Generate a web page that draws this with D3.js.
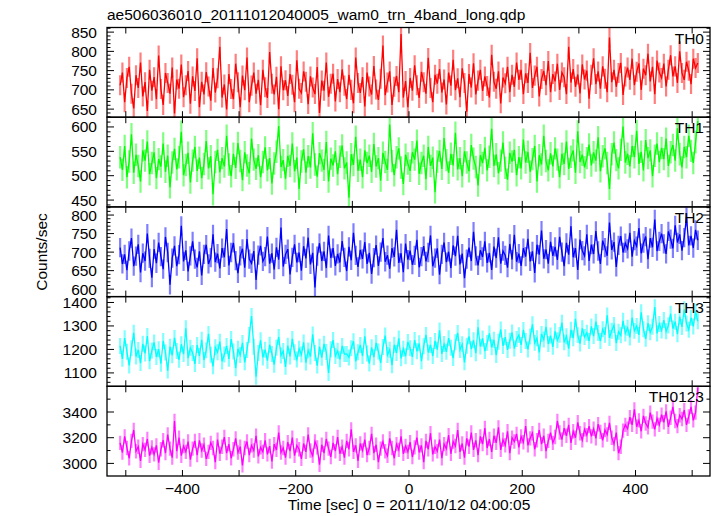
<!DOCTYPE html>
<html><head><meta charset="utf-8">
<script src="https://cdn.jsdelivr.net/npm/d3@7"></script>
<style>html,body{margin:0;padding:0;background:#fff;} svg{display:block;}</style>
</head><body>
<svg id="c" width="717" height="516"></svg>
<script>
const title = "ae506036010_20111012040005_wam0_trn_4band_long.qdp";
const xLabel = "Time [sec] 0 = 2011/10/12 04:00:05";
const yLabel = "Counts/sec";
const bands = ["TH0", "TH1", "TH2", "TH3", "TH0123"];
const colors = ["#ff0000", "#00ff00", "#0000ff", "#00ffff", "#ff00ff"];
const tStart = -510, binSize = 4;
const errors = [26, 23, 26, 34, 56];
const xTicks = [-400, -200, 0, 200, 400];

const th0 = [712,745,668,731,760,690,652,738,705,771,683,720,645,752,698,733,
676,789,702,661,744,718,690,758,639,727,703,766,681,712,749,664,
735,697,782,655,721,688,746,709,672,757,693,730,812,680,714,649,
741,702,676,768,720,655,737,699,784,668,711,745,690,726,660,752,
707,679,798,716,688,734,650,761,699,725,684,741,713,668,777,703,
692,748,721,663,735,706,689,759,640,724,698,771,682,716,742,670,
728,694,753,711,676,739,700,665,784,718,692,733,657,745,709,688,
762,701,674,729,815,686,719,748,661,708,736,694,845,680,723,655,
731,698,764,712,679,747,720,690,783,705,668,739,716,754,693,727,
662,745,711,778,699,730,681,756,718,643,741,706,769,688,724,752,
697,735,710,680,791,721,703,748,665,732,717,760,694,739,708,771,
726,752,689,743,718,796,705,737,760,683,728,749,712,775,694,741,
722,768,700,745,733,689,812,719,754,708,740,691,766,727,750,677,
739,782,715,748,703,761,729,694,836,720,752,708,744,770,687,735,
758,726,781,712,747,769,700,755,738,794,722,760,689,776,745,731,
768,709,752,790,735,761,718,800,744,726,773,750,715,781,757,770];

const th1 = [538,512,561,497,529,585,506,543,520,488,552,531,570,503,526,548,
495,534,519,566,508,541,476,527,555,513,538,590,501,522,547,486,
531,559,510,537,495,524,571,515,540,462,528,553,507,536,519,582,
523,499,545,516,567,530,491,548,521,505,576,533,514,542,497,528,
558,511,536,484,525,549,602,518,532,494,541,520,566,509,537,473,
529,554,506,540,517,587,523,498,546,531,512,569,488,535,521,550,
503,539,562,515,527,455,544,522,580,510,533,497,552,526,541,508,
565,519,536,490,547,528,512,605,530,501,538,556,517,483,543,525,
510,548,533,572,504,526,541,493,559,520,537,466,529,551,514,577,
532,506,545,521,588,513,536,499,550,527,509,563,535,518,480,542,
526,557,511,539,596,520,544,505,531,568,516,492,547,529,553,501,
538,515,574,527,549,508,534,561,488,542,523,582,530,511,546,519,
556,533,497,545,524,570,514,539,552,506,591,528,543,517,536,564,
521,548,531,579,509,540,556,526,473,544,568,532,515,553,601,527,
545,519,561,538,592,524,549,511,573,536,552,499,541,566,528,557,
534,576,520,548,563,531,597,544,517,559,538,582,551,526,569,612];

const th2 = [712,668,694,651,703,738,662,689,721,645,697,676,750,683,631,708,
670,726,688,654,741,699,612,684,717,662,693,771,675,705,648,690,
729,681,659,702,637,694,720,668,685,748,673,696,656,711,686,762,
664,699,725,677,643,690,709,658,735,681,670,703,625,692,717,675,
688,742,669,697,653,713,680,766,661,694,708,640,686,721,672,699,
650,716,683,739,667,698,605,689,724,676,702,657,745,684,711,663,
695,672,730,686,649,714,678,752,691,660,706,682,727,668,698,641,
685,719,663,700,738,674,692,655,711,687,760,671,697,646,723,680,
704,666,691,733,659,688,716,675,699,745,662,684,710,639,694,726,
673,701,657,718,689,744,667,696,630,681,712,676,755,690,664,705,
687,729,671,698,652,715,684,740,669,703,691,658,722,680,747,674,
696,663,711,688,736,675,702,644,720,693,758,682,707,669,728,690,
714,679,741,700,662,725,693,770,686,711,652,734,704,690,748,676,
720,695,757,703,668,731,712,690,780,706,727,660,718,743,699,724,
709,752,688,731,716,765,697,724,742,681,738,713,788,703,729,750,
722,695,756,735,710,772,726,748,704,739,795,718,744,711,760,732];

const th3 = [1215,1160,1248,1190,1132,1205,1271,1170,1198,1142,1224,1183,1257,1150,1195,1230,
1168,1201,1139,1236,1187,1110,1212,1175,1249,1193,1156,1222,1180,1290,1163,1207,
1185,1138,1219,1172,1241,1155,1196,1266,1177,1128,1209,1188,1233,1149,1178,1215,
1160,1244,1191,1120,1203,1176,1228,1145,1198,1262,1342,1211,1084,1185,1239,1166,
1199,1152,1220,1181,1135,1207,1253,1174,1193,1126,1216,1170,1245,1188,1157,1203,
1178,1230,1144,1196,1170,1264,1185,1131,1212,1165,1224,1189,1100,1201,1240,1172,
1194,1158,1215,1180,1181,1166,1205,1235,1149,1188,1219,1172,1256,1183,1140,1209,
1167,1228,1191,1143,1210,1259,1176,1199,1133,1220,1185,1247,1162,1203,1171,1232,
1205,1168,1240,1192,1226,1150,1214,1262,1187,1219,1172,1236,1199,1281,1181,1223,
1190,1248,1207,1163,1231,1270,1198,1222,1145,1216,1256,1201,1239,1184,1294,1212,
1247,1193,1228,1268,1209,1241,1176,1233,1285,1215,1252,1198,1237,1272,1204,1244,
1261,1219,1283,1236,1200,1255,1307,1228,1248,1187,1266,1242,1296,1223,1259,1211,
1277,1239,1262,1314,1230,1256,1203,1284,1248,1330,1261,1225,1290,1253,1271,1236,
1298,1257,1318,1270,1236,1286,1262,1345,1249,1280,1304,1227,1275,1260,1322,1268,
1292,1251,1336,1279,1300,1262,1358,1286,1245,1312,1273,1297,1380,1268,1308,1281,
1325,1277,1302,1352,1289,1318,1265,1340,1296,1371,1310,1284,1335,1298,1362,1320];

const th0123 = [3160,3085,3210,3120,3040,3175,3260,3095,3130,3020,3150,3105,3190,3060,3125,3070,
3140,3005,3110,3180,3080,3225,3115,3045,3330,3095,3200,3060,3135,3090,3170,3030,
3115,3175,3065,3180,3100,3145,3035,3090,3160,3120,3010,3185,3075,3130,3205,3080,
3150,3040,3110,3195,3085,3130,2985,3120,3170,3065,3140,3100,3215,3055,3125,3090,
3180,3070,3135,3015,3150,3105,3240,3085,3120,3045,3165,3095,3200,3060,3140,3110,
3035,3155,3090,3225,3100,3060,3170,3125,2990,3145,3080,3190,3115,3050,3160,3095,
3205,3075,3130,3045,3175,3110,3265,3090,3140,3020,3155,3100,3185,3065,3120,3230,
3080,3145,3010,3115,3170,3095,3060,3195,3120,3040,3150,3105,3210,3075,3135,3090,
3165,3050,3125,3200,3085,3140,3010,3175,3110,3235,3070,3130,3095,3185,3040,3150,
3115,3220,3075,3170,3135,3260,3090,3155,3045,3195,3130,3240,3105,3180,3065,3210,
3150,3275,3120,3190,3090,3215,3160,3280,3105,3185,3140,3250,3080,3200,3170,3230,
3125,3210,3165,3290,3140,3195,3235,3110,3180,3260,3150,3215,3095,3175,3240,3160,
3205,3330,3240,3185,3275,3215,3300,3160,3250,3200,3320,3235,3180,3265,3220,3290,
3210,3270,3195,3305,3245,3180,3260,3225,3315,3200,3150,3240,3080,3130,3255,3300,
3270,3360,3300,3420,3285,3335,3250,3370,3310,3280,3395,3325,3265,3350,3300,3380,
3320,3405,3285,3355,3440,3330,3290,3375,3345,3415,3300,3365,3440,3335,3395,3590];

const seriesValues = [th0, th1, th2, th3, th0123];
const yDomains = [[629, 862], [436, 620], [580, 822], [1043, 1425], [2902, 3600]];
const yMajor = [50, 50, 50, 100, 200];
const yMinor = [10, 10, 10, 20, 100];

const svg = d3.select("#c");
const font = "'Liberation Sans', Arial, Helvetica, sans-serif";
const L = 107, R = 710, T = 27.5, B = 476;
const ph = (B - T) / bands.length;
const x = d3.scaleLinear().domain([-533.2, 531.5]).range([L, R]);
const times = d3.range(th0.length).map(i => tStart + i * binSize);

svg.append("text").attr("x", L).attr("y", 20).attr("font-family", font)
  .attr("font-size", 15.5).text(title);

bands.forEach((name, k) => {
  const top = T + k * ph, bot = top + ph;
  const y = d3.scaleLinear().domain(yDomains[k]).range([bot, top]);
  const vals = seriesValues[k];
  const g = svg.append("g");
  const clipId = "clip" + k;
  svg.append("clipPath").attr("id", clipId).append("rect")
    .attr("x", L).attr("y", top).attr("width", R - L).attr("height", ph);
  const dg = g.append("g").attr("clip-path", `url(#${clipId})`);
  // error bars
  const p = d3.path();
  vals.forEach((v, i) => {
    p.moveTo(x(times[i]), y(v - errors[k]));
    p.lineTo(x(times[i]), y(v + errors[k]));
  });
  dg.append("path").attr("d", p.toString()).attr("stroke", colors[k])
    .attr("stroke-opacity", 0.5).attr("stroke-width", 2.2).attr("fill", "none");
  const line = d3.line().x((d, i) => x(times[i])).y(d => y(d));
  dg.append("path").datum(vals).attr("d", line).attr("stroke", colors[k])
    .attr("stroke-width", 1.3).attr("fill", "none");

  // y ticks
  const [d0, d1] = yDomains[k];
  const minorT = d3.range(Math.ceil(d0 / yMinor[k]) * yMinor[k], d1, yMinor[k]);
  minorT.forEach(v => {
    const isMajor = Math.abs(v / yMajor[k] - Math.round(v / yMajor[k])) < 1e-9;
    const len = isMajor ? 7 : 3.5;
    const yy = y(v);
    g.append("line").attr("x1", L).attr("x2", L + len).attr("y1", yy).attr("y2", yy)
      .attr("stroke", "#000").attr("stroke-width", 1);
    g.append("line").attr("x1", R).attr("x2", R - len).attr("y1", yy).attr("y2", yy)
      .attr("stroke", "#000").attr("stroke-width", 1);
    if (isMajor) {
      g.append("text").attr("x", 97).attr("y", yy + 5.5).attr("text-anchor", "end")
        .attr("font-family", font).attr("font-size", 15.5).text(d3.format("d")(v));
    }
  });
  // x ticks
  d3.range(-500, 501, 100).forEach(t => {
    const xx = x(t);
    g.append("line").attr("x1", xx).attr("x2", xx).attr("y1", top).attr("y2", top + 6)
      .attr("stroke", "#000").attr("stroke-width", 1);
    g.append("line").attr("x1", xx).attr("x2", xx).attr("y1", bot).attr("y2", bot - 6)
      .attr("stroke", "#000").attr("stroke-width", 1);
  });
  g.append("rect").attr("x", L).attr("y", top).attr("width", R - L).attr("height", ph)
    .attr("fill", "none").attr("stroke", "#000").attr("stroke-width", 1.3);
  g.append("text").attr("x", R - 6).attr("y", top + 16).attr("text-anchor", "end")
    .attr("font-family", font).attr("font-size", 15.5).text(name);
});

xTicks.forEach(t => {
  svg.append("text").attr("x", x(t)).attr("y", 494).attr("text-anchor", "middle")
    .attr("font-family", font).attr("font-size", 15.5)
    .text(t < 0 ? "\u2212" + Math.abs(t) : String(t));
});
svg.append("text").attr("x", x(0)).attr("y", 510).attr("text-anchor", "middle")
  .attr("font-family", font).attr("font-size", 15.5).text(xLabel);
svg.append("text").attr("transform", "translate(47,252) rotate(-90)")
  .attr("text-anchor", "middle").attr("font-family", font).attr("font-size", 15.5).text(yLabel);
</script>
</body></html>
